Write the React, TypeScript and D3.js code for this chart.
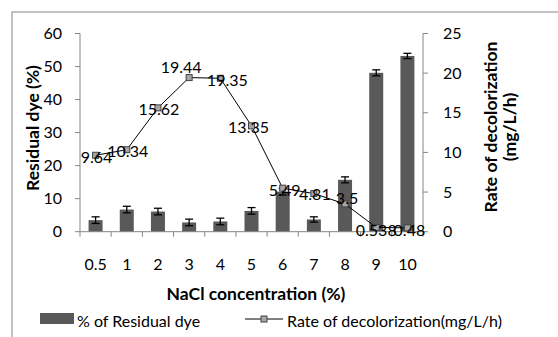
import React from 'react';
import * as d3 from 'd3';

const categories = ['0.5', '1', '2', '3', '4', '5', '6', '7', '8', '9', '10'];
const residualDye = [3.5, 6.7, 6.1, 2.8, 3.1, 6.3, 12.1, 3.7, 15.7, 48.1, 53.2];
const residualErr = [1.0, 1.0, 1.0, 1.0, 1.0, 1.0, 1.0, 0.8, 0.9, 0.9, 0.8];
const decolorRate = [9.64, 10.34, 15.62, 19.44, 19.35, 13.35, 5.49, 4.81, 3.5, 0.538, 0.48];
const leftTicks = [0, 10, 20, 30, 40, 50, 60];
const rightTicks = [0, 5, 10, 15, 20, 25];

// label nudges (px) so they sit like the original
const labelOffsets: [number, number][] = [
  [1, 2], [1, 2], [1, 2], [-8, -10], [7, 2], [-3, 2], [2, 2], [1, 1], [2, -6], [0, 3], [2, 3],
];

const W = 558;
const H = 337;
const left = 80;
const right = 423;
const top = 33.5;
const bottom = 231.7;
const font = 'Lato, "Open Sans", sans-serif';
const axisColor = '#868686';

const App = () => {
  const x = d3.scaleBand<string>().domain(categories).range([left, right]);
  const yL = d3.scaleLinear().domain([0, 60]).range([bottom, top]);
  const yR = d3.scaleLinear().domain([0, 25]).range([bottom, top]);
  const cx = (c: string) => (x(c) as number) + x.bandwidth() / 2;
  const barW = 14;

  const line = d3.line<number>()
    .x((d, i) => cx(categories[i]))
    .y(d => yR(d));

  return (
    <svg width={W} height={H} style={{ position: 'absolute', left: 0, top: 0, background: '#fff' }}
      fontFamily={font}>
      <rect x={12} y={12} width={700} height={500} fill="#fff" stroke={axisColor} strokeWidth={1} />

      {/* bars */}
      {categories.map((c, i) => (
        <rect key={'b' + c} x={cx(c) - barW / 2} y={yL(residualDye[i])} width={barW}
          height={bottom - yL(residualDye[i])} fill="#595959" />
      ))}
      {/* error bars */}
      {categories.map((c, i) => {
        const y1 = yL(residualDye[i] + residualErr[i]);
        const y2 = yL(residualDye[i] - residualErr[i]);
        const xc = cx(c);
        return (
          <g key={'e' + c} stroke="#000" strokeWidth={1.3}>
            <line x1={xc} x2={xc} y1={y1} y2={y2} />
            <line x1={xc - 4} x2={xc + 4} y1={y1} y2={y1} />
            <line x1={xc - 4} x2={xc + 4} y1={y2} y2={y2} />
          </g>
        );
      })}

      {/* left axis */}
      <line x1={left} x2={left} y1={top} y2={bottom} stroke={axisColor} />
      {leftTicks.map(t => (
        <g key={'l' + t}>
          <line x1={left - 5} x2={left} y1={yL(t)} y2={yL(t)} stroke={axisColor} />
          <text x={62} y={yL(t)} dy="0.35em" textAnchor="end" fontSize={16}>{t}</text>
        </g>
      ))}
      {/* right axis */}
      <line x1={right} x2={right} y1={top} y2={bottom} stroke={axisColor} />
      {rightTicks.map(t => (
        <g key={'r' + t}>
          <line x1={right} x2={right + 5} y1={yR(t)} y2={yR(t)} stroke={axisColor} />
          <text x={443} y={yR(t)} dy="0.35em" textAnchor="start" fontSize={16}>{t}</text>
        </g>
      ))}
      {/* x axis */}
      <line x1={left} x2={right} y1={bottom} y2={bottom} stroke={axisColor} />
      {categories.map(c => (
        <line key={'t' + c} x1={x(c) as number} x2={x(c) as number} y1={bottom} y2={bottom + 5} stroke={axisColor} />
      ))}
      <line x1={right} x2={right} y1={bottom} y2={bottom + 5} stroke={axisColor} />
      {categories.map(c => (
        <text key={'x' + c} x={cx(c)} y={270} textAnchor="middle" fontSize={16}>{c}</text>
      ))}

      {/* line series */}
      <path d={line(decolorRate) || ''} fill="none" stroke="#000" strokeWidth={1} />
      {decolorRate.map((v, i) => (
        <rect key={'m' + i} x={cx(categories[i]) - 3} y={yR(v) - 3} width={6} height={6}
          fill="#a6a6a6" stroke="#404040" strokeWidth={1} />
      ))}
      {decolorRate.map((v, i) => (
        <text key={'d' + i} x={cx(categories[i]) + labelOffsets[i][0]} y={yR(v) + labelOffsets[i][1]}
          dy="0.35em" textAnchor="middle" fontSize={16}>{v}</text>
      ))}

      {/* titles */}
      <text transform="translate(33,128) rotate(-90)" dy="0.35em" textAnchor="middle" fontSize={17.5} fontWeight="bold">
        Residual dye (%)
      </text>
      <text transform="translate(491,127) rotate(-90)" dy="0.35em" textAnchor="middle" fontSize={17.5} fontWeight="bold">
        Rate of decolorization
      </text>
      <text transform="translate(510,127) rotate(-90)" dy="0.35em" textAnchor="middle" fontSize={17.5} fontWeight="bold">
        (mg/L/h)
      </text>
      <text x={256} y={300} textAnchor="middle" fontSize={17.5} fontWeight="bold">NaCl concentration (%)</text>

      {/* legend */}
      <rect x={40} y={313} width={34} height={11} fill="#595959" />
      <text x={77} y={327} fontSize={16}>% of Residual dye</text>
      <line x1={245} x2={283} y1={319} y2={319} stroke="#000" />
      <rect x={261} y={316} width={6} height={6} fill="#a6a6a6" stroke="#404040" />
      <text x={287} y={327} fontSize={16}>Rate of decolorization(mg/L/h)</text>
    </svg>
  );
};

export default App;
